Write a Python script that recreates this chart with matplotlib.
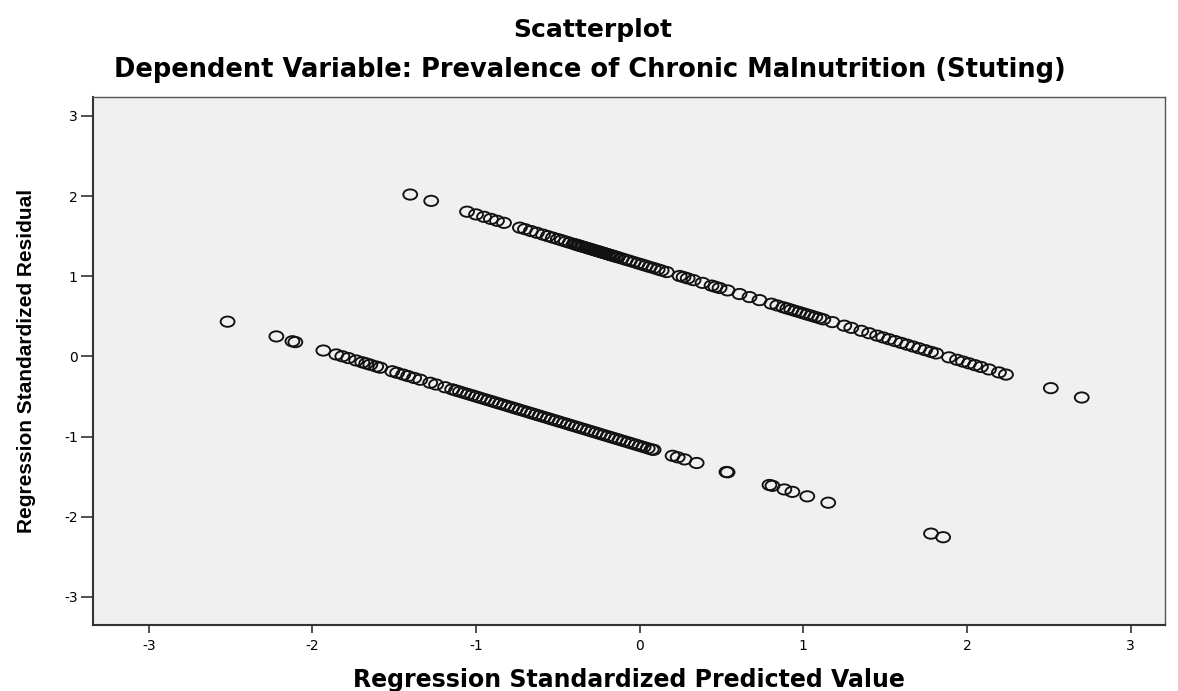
import matplotlib
matplotlib.use("Agg")
import matplotlib.pyplot as plt
from matplotlib.path import Path
from matplotlib.transforms import Affine2D

# upper band of residuals (predicted, residual)
upper_pred = [-1.402, -1.274, -1.055, -1.000, -0.951, -0.909, -0.872, -0.829,
              -0.732, -0.701, -0.665, -0.628, -0.591, -0.561, -0.530, -0.500,
              -0.476, -0.451, -0.427, -0.402, -0.390, -0.378, -0.366, -0.354,
              -0.342, -0.329, -0.317, -0.305, -0.293, -0.280, -0.268, -0.256,
              -0.244, -0.232, -0.220, -0.207, -0.195, -0.183, -0.171, -0.159,
              -0.146, -0.134, -0.110, -0.085, -0.061, -0.037, -0.012, 0.012,
              0.037, 0.061, 0.085, 0.110, 0.134, 0.165, 0.244, 0.268, 0.293,
              0.329, 0.384, 0.439, 0.463, 0.488, 0.537, 0.610, 0.671, 0.732,
              0.805, 0.841, 0.878, 0.902, 0.927, 0.951, 0.976, 1.000, 1.024,
              1.049, 1.073, 1.098, 1.122, 1.177, 1.250, 1.293, 1.354, 1.402,
              1.451, 1.488, 1.524, 1.561, 1.598, 1.634, 1.671, 1.707, 1.744,
              1.780, 1.811, 1.890, 1.939, 1.976, 2.012, 2.049, 2.085, 2.134,
              2.195, 2.238, 2.512, 2.701]
upper_resid = [2.020, 1.941, 1.806, 1.772, 1.742, 1.716, 1.693, 1.667,
               1.607, 1.588, 1.565, 1.543, 1.520, 1.501, 1.482, 1.464,
               1.449, 1.433, 1.418, 1.403, 1.396, 1.388, 1.381, 1.373,
               1.366, 1.358, 1.351, 1.343, 1.336, 1.328, 1.320, 1.313,
               1.306, 1.298, 1.291, 1.283, 1.275, 1.268, 1.261, 1.253,
               1.245, 1.238, 1.223, 1.207, 1.193, 1.178, 1.162, 1.148,
               1.132, 1.117, 1.103, 1.087, 1.072, 1.053, 1.004, 0.990, 0.974,
               0.952, 0.918, 0.884, 0.869, 0.854, 0.824, 0.779, 0.741, 0.703,
               0.658, 0.636, 0.613, 0.598, 0.583, 0.568, 0.553, 0.538, 0.523,
               0.508, 0.493, 0.478, 0.463, 0.429, 0.384, 0.357, 0.320, 0.290,
               0.260, 0.237, 0.215, 0.192, 0.169, 0.147, 0.124, 0.102, 0.079,
               0.057, 0.038, -0.011, -0.041, -0.064, -0.086, -0.109, -0.131, -0.162,
               -0.199, -0.226, -0.395, -0.512]

# lower band
lower_pred = [-2.518, -2.220, -2.122, -2.104, -1.933, -1.854, -1.817, -1.780,
              -1.732, -1.695, -1.671, -1.646, -1.610, -1.585, -1.512, -1.482,
              -1.445, -1.415, -1.378, -1.341, -1.280, -1.244, -1.189, -1.146,
              -1.122, -1.098, -1.073, -1.049, -1.024, -1.000, -0.976, -0.951,
              -0.927, -0.902, -0.878, -0.854, -0.829, -0.805, -0.780, -0.756,
              -0.732, -0.707, -0.683, -0.659, -0.634, -0.610, -0.585, -0.561,
              -0.537, -0.512, -0.488, -0.463, -0.439, -0.415, -0.390, -0.366,
              -0.341, -0.317, -0.293, -0.268, -0.244, -0.220, -0.195, -0.171,
              -0.146, -0.122, -0.098, -0.073, -0.049, -0.024, 0.000, 0.024,
              0.049, 0.073, 0.085, 0.201, 0.232, 0.274, 0.348, 0.530, 0.537,
              0.793, 0.811, 0.884, 0.933, 1.024, 1.152, 1.780, 1.854]
lower_resid = [0.434, 0.250, 0.190, 0.179, 0.074, 0.025, 0.002, -0.020,
               -0.050, -0.073, -0.087, -0.103, -0.125, -0.140, -0.185, -0.204,
               -0.226, -0.245, -0.268, -0.290, -0.328, -0.350, -0.384, -0.410,
               -0.425, -0.440, -0.455, -0.470, -0.485, -0.500, -0.515, -0.530,
               -0.545, -0.560, -0.575, -0.590, -0.605, -0.620, -0.635, -0.650,
               -0.665, -0.680, -0.695, -0.710, -0.725, -0.740, -0.755, -0.770,
               -0.785, -0.800, -0.815, -0.830, -0.845, -0.860, -0.875, -0.890,
               -0.905, -0.920, -0.935, -0.950, -0.965, -0.980, -0.995, -1.010,
               -1.025, -1.040, -1.055, -1.070, -1.085, -1.100, -1.115, -1.130,
               -1.145, -1.160, -1.165, -1.239, -1.258, -1.284, -1.329, -1.441, -1.445,
               -1.603, -1.614, -1.659, -1.689, -1.745, -1.824, -2.210, -2.255]

ticks = [-3, -2, -1, 0, 1, 2, 3]

plt.rcParams['font.family'] = ['DejaVu Sans']
plt.rcParams['axes.unicode_minus'] = False

#the original picture is stretched sideways, so the circles come out a bit wide
ellipse = Path.unit_circle().transformed(Affine2D().scale(1.35, 1.0))

fig = plt.figure(figsize=(11.78, 6.91), dpi=100)
ax = fig.add_axes([0.079, 0.0955, 0.910, 0.7645])
ax.set_facecolor('#f0f0f0')

ax.scatter(upper_pred + lower_pred, upper_resid + lower_resid, s=100,
           marker=ellipse, facecolors='none', edgecolors='#111111', linewidths=1.35)

ax.set_xlim(-3.34, 3.21)
ax.set_ylim(-3.35, 3.24)
ax.set_xticks(ticks)
ax.set_yticks(ticks)
ax.tick_params(direction='out', width=1.2, colors='#333333',
               labelcolor='black', labelsize=10)
ax.tick_params(axis='x', length=6, pad=4)
ax.tick_params(axis='y', length=9, pad=2)
for side in ['top', 'right']:
    ax.spines[side].set_color('#555555')
    ax.spines[side].set_linewidth(1.0)
for side in ['left', 'bottom']:
    ax.spines[side].set_color('#333333')
    ax.spines[side].set_linewidth(1.5)

ax.set_xlabel('Regression Standardized Predicted Value', fontsize=17,
              fontweight='bold')
ax.xaxis.set_label_coords(0.5, -0.104)
ax.xaxis.label.set_va('center')
ax.set_ylabel('Regression Standardized Residual', fontsize=15,
              fontweight='bold', family='Liberation Sans')
ax.yaxis.set_label_coords(-0.0625, 0.5)
ax.yaxis.label.set_va('center')

fig.text(0.503, 0.957, 'Scatterplot', ha='center', va='center',
         fontsize=18, fontweight='bold')
fig.text(0.501, 0.899, 'Dependent Variable: Prevalence of Chronic Malnutrition (Stuting)',
         ha='center', va='center', fontsize=18.5, fontweight='bold')

fig.savefig('out.png', dpi=100)
